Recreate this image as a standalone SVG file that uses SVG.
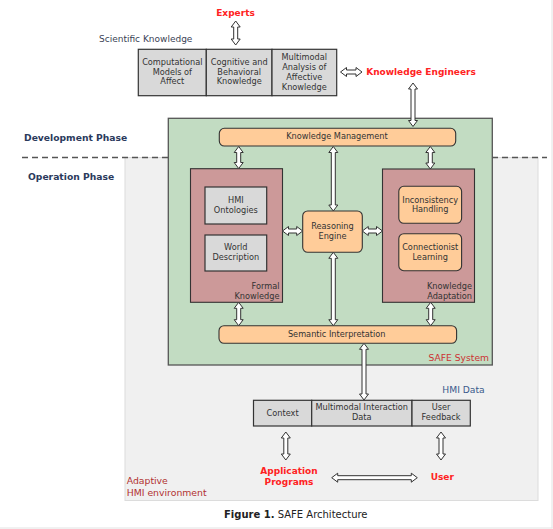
<svg xmlns="http://www.w3.org/2000/svg" width="553" height="529" viewBox="0 0 553 529">
<style>
text{font-family:"DejaVu Sans",Verdana,sans-serif;fill:#333;}
.t8{font-size:8.2px;text-anchor:middle;}
.r8{font-size:8.2px;text-anchor:end;}
.red{font-size:9px;font-weight:bold;fill:#ff2222;text-anchor:middle;}
.phase{font-size:9.2px;font-weight:bold;fill:#2b3a5c;}
.gbox{fill:#d9d9d9;stroke:#333;stroke-width:1.2;}
.obox{fill:#ffcc99;stroke:#333;stroke-width:1.1;}
.mbox{fill:#cc9999;stroke:#333;stroke-width:1.1;}
.arr{fill:#fff;stroke:#333;stroke-width:1;stroke-linejoin:miter;}
</style>
<rect x="0" y="0" width="553" height="529" fill="#fff"/>
<line x1="552" y1="0" x2="552" y2="528.5" stroke="#e2e2e2" stroke-width="1"/>
<line x1="0" y1="528" x2="552.5" y2="528" stroke="#e2e2e2" stroke-width="1"/>

<g id="operation-area">
<rect x="125" y="157.5" width="413" height="343" fill="#f0f0f0" stroke="#dcdcdc" stroke-width="1"/>
<text x="126.7" y="484" style="font-size:9.3px;fill:#b03030;">Adaptive</text>
<text x="126.7" y="495.5" style="font-size:9.3px;fill:#b03030;">HMI environment</text>
</g>
<line x1="22" y1="157.5" x2="547" y2="157.5" stroke="#555" stroke-width="1.3" stroke-dasharray="6,4"/>
<text class="phase" x="24" y="141">Development Phase</text>
<text class="phase" x="28" y="180">Operation Phase</text>

<g id="scientific-knowledge">
<text x="99" y="42" style="font-size:9px;fill:#3a3f55;">Scientific Knowledge</text>
<rect class="gbox" x="138.3" y="49.3" width="68" height="46.4"/>
<rect class="gbox" x="206.3" y="49.3" width="65.7" height="46.4"/>
<rect class="gbox" x="272" y="49.3" width="64.7" height="46.4"/>
<text class="t8" x="172.3" y="64.5">Computational</text>
<text class="t8" x="172.3" y="74.5">Models of</text>
<text class="t8" x="172.3" y="84">Affect</text>
<text class="t8" x="239.2" y="64.5">Cognitive and</text>
<text class="t8" x="239.2" y="74.5">Behavioral</text>
<text class="t8" x="239.2" y="84">Knowledge</text>
<text class="t8" x="304.3" y="60">Multimodal</text>
<text class="t8" x="304.3" y="69.7">Analysis of</text>
<text class="t8" x="304.3" y="79.7">Affective</text>
<text class="t8" x="304.3" y="89.5">Knowledge</text>
</g>

<g id="experts"><text class="red" x="235.5" y="15.5">Experts</text></g>
<g id="knowledge-engineers"><text class="red" x="421" y="75.3">Knowledge Engineers</text></g>

<g id="safe-system">
<rect x="168.3" y="118.3" width="324" height="246.7" fill="#c2dcc2" stroke="#555" stroke-width="1.3"/>
<text x="489" y="360.5" style="font-size:9.2px;fill:#cc3333;text-anchor:end;">SAFE System</text>
</g>

<g id="knowledge-management">
<rect class="obox" x="219.3" y="128.3" width="236.4" height="17.7" rx="5"/>
<text class="t8" x="337" y="139.2">Knowledge Management</text>
</g>

<g id="formal-knowledge">
<rect class="mbox" x="190.5" y="168.7" width="92" height="133.6"/>
<text class="r8" x="279.5" y="288.8">Formal</text>
<text class="r8" x="279.5" y="298.8">Knowledge</text>
</g>
<g id="hmi-ontologies">
<rect class="gbox" x="205" y="187" width="61.7" height="37" stroke-width="1"/>
<text class="t8" x="235.8" y="202.9">HMI</text>
<text class="t8" x="235.8" y="212.9">Ontologies</text>
</g>
<g id="world-description">
<rect class="gbox" x="205" y="235" width="61.7" height="36" stroke-width="1"/>
<text class="t8" x="235.8" y="250.2">World</text>
<text class="t8" x="235.8" y="260.2">Description</text>
</g>

<g id="reasoning-engine">
<rect class="obox" x="302.7" y="211" width="59.6" height="41.3" rx="5"/>
<text class="t8" x="332.5" y="229.2">Reasoning</text>
<text class="t8" x="332.5" y="239.2">Engine</text>
</g>

<g id="knowledge-adaptation">
<rect class="mbox" x="382.5" y="169" width="92" height="133.3"/>
<text class="r8" x="472" y="288.8">Knowledge</text>
<text class="r8" x="472" y="298.8">Adaptation</text>
</g>
<g id="inconsistency-handling">
<rect class="obox" x="398.8" y="186.3" width="62.8" height="37" rx="5"/>
<text class="t8" x="430.2" y="202.6">Inconsistency</text>
<text class="t8" x="430.2" y="212.2">Handling</text>
</g>
<g id="connectionist-learning">
<rect class="obox" x="398.8" y="233.7" width="62.8" height="37" rx="5"/>
<text class="t8" x="430.2" y="250.2">Connectionist</text>
<text class="t8" x="430.2" y="260.2">Learning</text>
</g>

<g id="semantic-interpretation">
<rect class="obox" x="219" y="325.7" width="237.6" height="17.6" rx="5"/>
<text class="t8" x="336.7" y="337.2">Semantic Interpretation</text>
</g>

<g id="hmi-data">
<text x="442.3" y="393" style="font-size:9.2px;fill:#3b5a8c;">HMI Data</text>
<rect class="gbox" x="253.5" y="400.3" width="58.2" height="25.7"/>
<rect class="gbox" x="311.7" y="400.3" width="100.3" height="25.7"/>
<rect class="gbox" x="412" y="400.3" width="58.3" height="25.7"/>
<text class="t8" x="282.6" y="415.7">Context</text>
<text class="t8" x="361.8" y="410.2">Multimodal Interaction</text>
<text class="t8" x="361.8" y="419.7">Data</text>
<text class="t8" x="441.1" y="410.2">User</text>
<text class="t8" x="441.1" y="419.9">Feedback</text>
</g>

<g id="application-programs">
<text class="red" x="289" y="474.3">Application</text>
<text class="red" x="289" y="485.3">Programs</text>
</g>
<g id="user"><text class="red" x="442.3" y="480.3">User</text></g>

<g id="connectors">
<path class="arr" d="M235.7 21 l4.5 6 h-2.5 V39 h2.5 l-4.5 6 l-4.5 -6 h2.5 V27 h-2.5 z"/>
<path class="arr" d="M340.5 72 l6 -4.5 v2.5 H356 v-2.5 l6 4.5 l-6 4.5 v-2.5 H346.5 v2.5 z"/>
<path class="arr" d="M413 83 l4.5 6 h-2.5 V120.5 h2.5 l-4.5 6 l-4.5 -6 h2.5 V89 h-2.5 z"/>
<path class="arr" d="M238.7 146.5 l4.5 6 h-2.5 V162.5 h2.5 l-4.5 6 l-4.5 -6 h2.5 V152.5 h-2.5 z"/>
<path class="arr" d="M430.3 146.5 l4.5 6 h-2.5 V163 h2.5 l-4.5 6 l-4.5 -6 h2.5 V152.5 h-2.5 z"/>
<path class="arr" d="M333.3 146.5 l4.5 6 h-2.5 V205 h2.5 l-4.5 6 l-4.5 -6 h2.5 V152.5 h-2.5 z"/>
<path class="arr" d="M282.5 231 l6 -4.5 v2.5 H296.7 v-2.5 l6 4.5 l-6 4.5 v-2.5 H288.5 v2.5 z"/>
<path class="arr" d="M362.3 231 l6 -4.5 v2.5 H376.5 v-2.5 l6 4.5 l-6 4.5 v-2.5 H368.3 v2.5 z"/>
<path class="arr" d="M238.7 302.3 l4.5 6 h-2.5 V319.7 h2.5 l-4.5 6 l-4.5 -6 h2.5 V308.3 h-2.5 z"/>
<path class="arr" d="M333.3 252.3 l4.5 6 h-2.5 V319.7 h2.5 l-4.5 6 l-4.5 -6 h2.5 V258.3 h-2.5 z"/>
<path class="arr" d="M430.7 302.3 l4.5 6 h-2.5 V319.7 h2.5 l-4.5 6 l-4.5 -6 h2.5 V308.3 h-2.5 z"/>
<path class="arr" d="M364 343.3 l4.5 6 h-2.5 V394 h2.5 l-4.5 6 l-4.5 -6 h2.5 V349.3 h-2.5 z"/>
<path class="arr" d="M285.8 432 l4.5 6 h-2.5 V454 h2.5 l-4.5 6 l-4.5 -6 h2.5 V438 h-2.5 z"/>
<path class="arr" d="M441 432 l4.5 6 h-2.5 V454 h2.5 l-4.5 6 l-4.5 -6 h2.5 V438 h-2.5 z"/>
<path class="arr" d="M331.7 477.7 l6 -4.5 v2.5 H411.3 v-2.5 l6 4.5 l-6 4.5 v-2.5 H337.7 v2.5 z"/>
</g>

<g id="caption">
<text x="224" y="518" style="font-size:10px;fill:#222;"><tspan font-weight="bold">Figure 1.</tspan> SAFE Architecture</text>
</g>
</svg>
